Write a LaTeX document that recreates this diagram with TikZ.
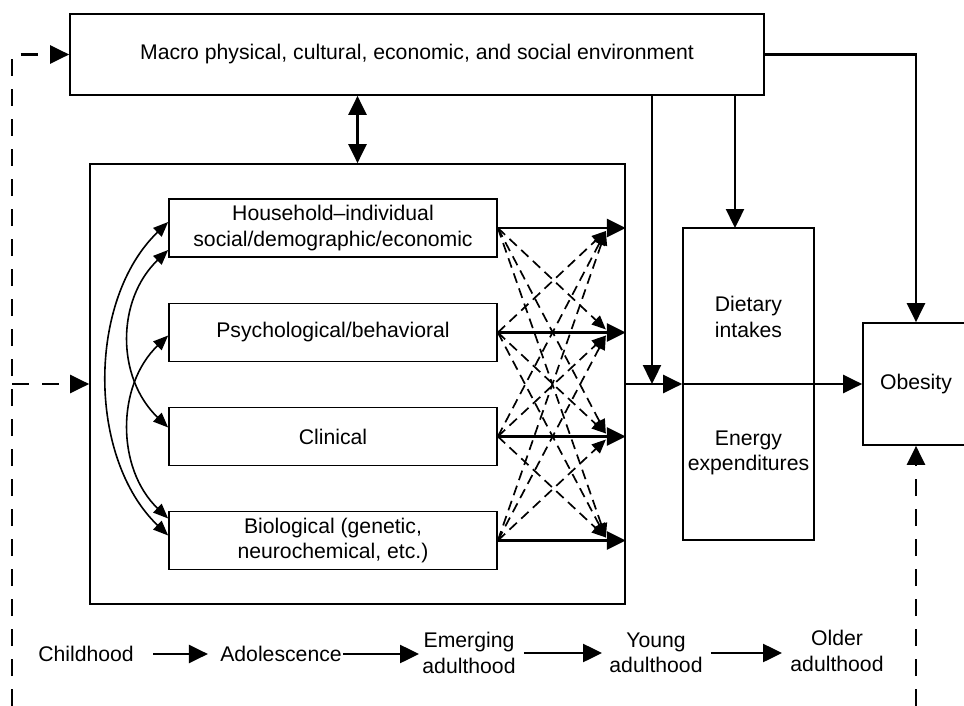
\documentclass[tikz,border=0pt]{standalone}
\usepackage{fontspec}
\setmainfont{Liberation Sans}
\usetikzlibrary{arrows.meta}
\usetikzlibrary{calc}
\newcommand{\lab}{\fontsize{10.6}{12.8}\selectfont}
\tikzset{
	box/.style={draw, line width=0.85pt, inner sep=0pt, align=center, font=\lab},
	lab/.style={inner sep=0pt, align=center, font=\lab},
	arr/.style={line width=1.2pt, -{Triangle[length=9.5pt,width=9pt]}},
	darr/.style={line width=1.2pt, {Triangle[length=9.5pt,width=9pt]}-{Triangle[length=9.5pt,width=9pt]}},
	loopline/.style={line width=1.3pt, dash pattern=on 8.5pt off 6.5pt, -{Triangle[length=9.5pt,width=9pt]}},
	cross/.style={line width=0.85pt, dash pattern=on 5pt off 3pt, -{Triangle[length=7pt,width=6pt]}},
	curve/.style={line width=0.8pt, {Triangle[length=7.5pt,width=6pt]}-{Triangle[length=7.5pt,width=6pt]}},
}
\begin{document}
\begin{tikzpicture}[x=0.5pt, y=-0.5pt]
	\useasboundingbox (0,0) rectangle (964,706);
	\clip (0,0) rectangle (964,706);
	% boxes
	\node[box, minimum width=347pt, minimum height=40.5pt] (macro) at (417,54.5) {Macro physical, cultural, economic, and social environment};
	\node[box, minimum width=267.5pt, minimum height=220pt] (outer) at (357.5,384) {};
	\node[box, minimum width=164pt, minimum height=29pt] (house) at (333,228) {Household--individual\\social/demographic/economic};
	\node[box, minimum width=164pt, minimum height=29pt] (psych) at (333,332.5) {Psychological/behavioral};
	\node[box, minimum width=164pt, minimum height=29pt] (clin) at (333,436.5) {Clinical};
	\node[box, minimum width=164pt, minimum height=29pt] (bio) at (333,540.5) {Biological (genetic,\\neurochemical, etc.)};
	\node[box, minimum width=65.5pt, minimum height=156pt] (diet) at (748.5,384) {};
	\node[lab] (intake) at (748.5,317) {Dietary\\intakes};
	\node[lab] (energy) at (748.5,453) {Energy\\expenditures};
	\node[box, minimum width=53pt, minimum height=61pt] (obes) at (916,384) {Obesity};
	% life course
	\node[lab] (child) at (86,654) {Childhood};
	\node[lab] (adol) at (281,654) {Adolescence};
	\node[lab] (emerg) at (469,653) {Emerging\\adulthood};
	\node[lab] (young) at (656,653) {Young\\adulthood};
	\node[lab] (older) at (837,651) {Older\\adulthood};
	\draw[arr, shorten <=9.5pt, shorten >=6pt] (child.east) -- (adol.west);
	\draw[arr, shorten <=0.5pt, shorten >=1.5pt] (adol.east) -- (adol.east -| emerg.west);
	\draw[arr, shorten <=4pt, shorten >=3.5pt] (emerg.east) -- (young.west);
	\draw[arr, shorten <=4pt, shorten >=4pt] (young.east) -- (young.east -| older.west);
	% macro links
	\coordinate (jn) at (652,384);
	\coordinate (dt) at (735,228);
	\draw[darr] (outer.north) -- (outer.north |- macro.south);
	\draw[arr] (jn |- macro.south) -- (jn);
	\draw[arr] (dt |- macro.south) -- (dt);
	\draw[arr] (macro.east) -| (obes.north);
	\draw[arr] (outer.east) -- (diet.west);
	\draw[line width=0.85pt] (diet.west) -- (diet.east);
	\draw[arr] (diet.east) -- (obes.west);
	% feedback
	\coordinate (lowl) at (12,706);
	\coordinate (lowr) at (916,706);
	\draw[loopline] (lowl) |- (macro.west);
	\draw[loopline] (lowl |- outer.west) -- (outer.west);
	\draw[loopline] (lowr) -- (obes.south);
	% domains to outcome
	\draw[arr] (house.east) -- (house.east -| outer.east);
	\draw[arr] (psych.east) -- (psych.east -| outer.east);
	\draw[arr] (clin.east) -- (clin.east -| outer.east);
	\draw[arr] (bio.east) -- (bio.east -| outer.east);
	\draw[cross] (house.east) -- ($(psych.east)+(108,-3)$);
	\draw[cross] (house.east) -- ($(clin.east)+(108,-3)$);
	\draw[cross] (house.east) -- ($(bio.east)+(108,-3)$);
	\draw[cross] (psych.east) -- ($(house.east)+(108,3)$);
	\draw[cross] (psych.east) -- ($(clin.east)+(108,-3)$);
	\draw[cross] (psych.east) -- ($(bio.east)+(108,-3)$);
	\draw[cross] (clin.east) -- ($(house.east)+(108,3)$);
	\draw[cross] (clin.east) -- ($(psych.east)+(108,3)$);
	\draw[cross] (clin.east) -- ($(bio.east)+(108,-3)$);
	\draw[cross] (bio.east) -- ($(house.east)+(108,3)$);
	\draw[cross] (bio.east) -- ($(psych.east)+(108,3)$);
	\draw[cross] (bio.east) -- ($(clin.east)+(108,3)$);
	% links between domains
	\draw[curve] ($(house.west)+(0,-6)$) .. controls +(-81,78) and +(-81,-78) .. ($(bio.west)+(0,-5)$);
	\draw[curve] ($(house.west)+(0,22)$) .. controls +(-52,50) and +(-52,-50) .. ($(clin.west)+(0,-9)$);
	\draw[curve] ($(psych.west)+(0,3)$) .. controls +(-52,50) and +(-52,-50) .. ($(bio.west)+(0,-22)$);
\end{tikzpicture}
\end{document}
